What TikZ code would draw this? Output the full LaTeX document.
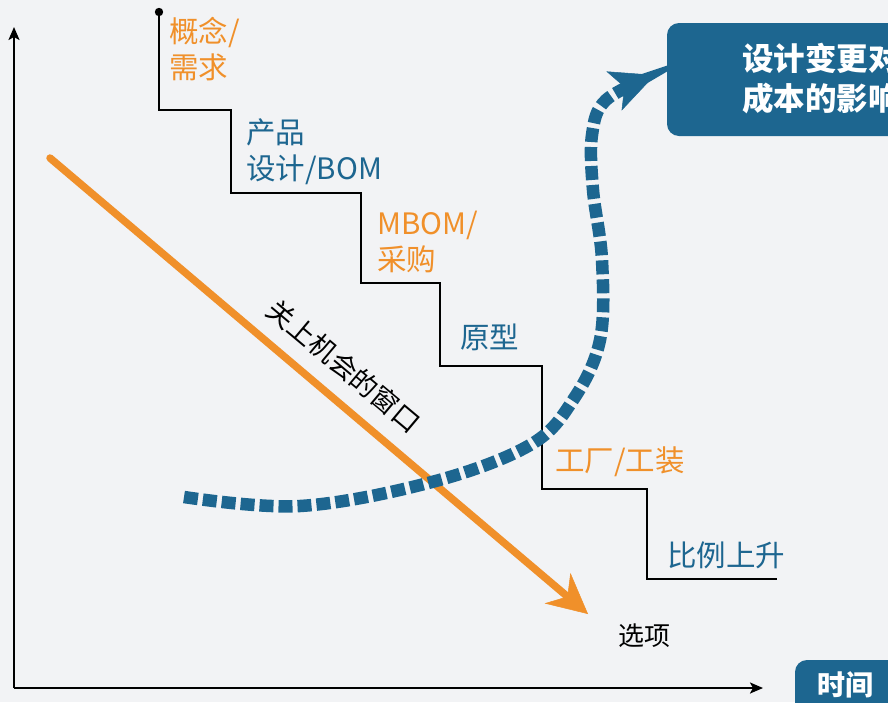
\documentclass[tikz,border=0pt]{standalone}
\usepackage{fontspec}
\setmainfont{Noto Sans CJK SC}
\usetikzlibrary{arrows.meta}
\definecolor{bg}{HTML}{F2F3F5}
\definecolor{cblue}{HTML}{1D6690}
\definecolor{corange}{HTML}{F0902A}
\tikzset{
  lbl/.style={anchor=base west, inner sep=0pt, font=\fontsize{29.5}{36}\selectfont},
  olbl/.style={lbl, text=corange},
  blbl/.style={lbl, text=cblue},
  axis/.style={line width=2.2pt, -{Stealth[length=13pt,width=11pt,inset=3pt]}},
  stair/.style={line width=2.4pt, black},
  wbold/.style={anchor=base west, inner sep=0pt, text=white, font=\bfseries\fontsize{31.5}{36}\selectfont},
}
\begin{document}
\begin{tikzpicture}[x=1pt,y=-1pt]
\fill[bg] (0,0) rectangle (888,702);
\useasboundingbox (0,0) rectangle (888,702);
% axes
\coordinate (o) at (14,688);
\coordinate (ytop) at (14,27);
\coordinate (xend) at (763,688);
\draw[axis] (o) -- (ytop);
\draw[axis] (o) -- (xend);
% staircase
\coordinate (s0) at (159,12);
\draw[stair] (s0) -- (159,110) -- (231,110) -- (231,193) -- (361,193) -- (361,283) -- (440,283) -- (440,366) -- (542,366) -- (542,489) -- (647,489) -- (647,579) -- (777,579);
\fill (s0) circle (4.2pt);
% stage labels
\node[olbl] (c1) at (169,42) {概念/};
\node[olbl] (c2) at (169,78) {需求};
\node[blbl] (p1) at (246,143) {产品};
\node[blbl] (p2) at (246,179) {设计/BOM};
\node[olbl] (m1) at (377,234) {MBOM/};
\node[olbl] (m2) at (377,270) {采购};
\node[blbl] (r1) at (460,348) {原型};
\node[olbl] (f1) at (555,471) {工厂/工装};
\node[blbl] (b1) at (667,566) {比例上升};
% orange arrow
\coordinate (oa) at (50,158);
\coordinate (ob) at (588,614);
\draw[corange, line width=7.5pt, line cap=round, -{Stealth[length=40pt,width=40pt,inset=13pt,line width=0.5pt]}] (oa) -- (ob);
\node[inner sep=0pt, rotate=-40, font=\fontsize{27}{30}\selectfont] (win) at (344,366) {关上机会的窗口};
% options
\node[anchor=base west, inner sep=0pt, font=\fontsize{26}{30}\selectfont] (opt) at (618,645) {选项};
% blue dashed curve
\draw[cblue, line width=12.5pt, dash pattern=on 14pt off 5pt, -{Stealth[length=44pt,width=42pt,inset=11pt,line width=0.5pt]}]
  plot[smooth, tension=0.6] coordinates {(184,497) (300,506) (432,482) (530,445) (573,400) (600,340) (602,260) (593,190) (592,135) (606,100) (655,75)};
% cost box
\fill[cblue, rounded corners=12pt] (667,23) rectangle (950,136);
\node[wbold] (cost1) at (742,70) {设计变更对};
\node[wbold] (cost2) at (742,110) {成本的影响};
% time box
\fill[cblue, rounded corners=12pt] (795,660) rectangle (950,740);
\node[wbold, font=\bfseries\fontsize{28}{30}\selectfont] (time) at (817,695) {时间};
\end{tikzpicture}
\end{document}
